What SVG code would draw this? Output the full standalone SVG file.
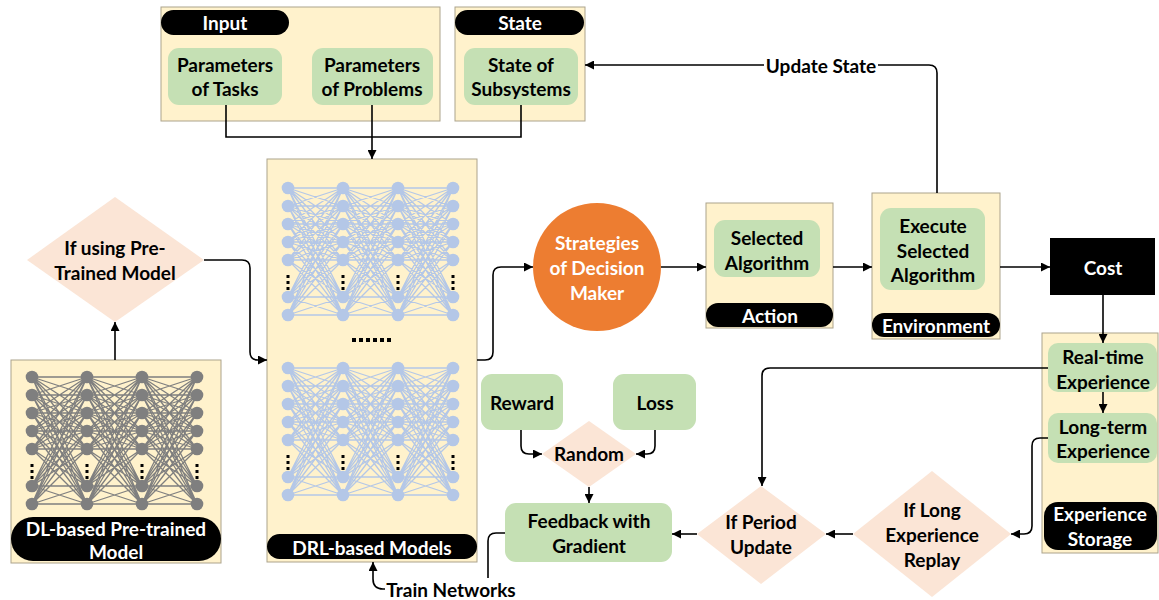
<svg xmlns="http://www.w3.org/2000/svg" xmlns:xlink="http://www.w3.org/1999/xlink" width="1159" height="600" viewBox="0 0 1159 600">
<style>
.box{fill:#fff2cc;stroke:#aca38c;stroke-width:1}
.grn{fill:#c5e0b4;stroke:none}
.pill{fill:#000}
.dia{fill:#fbe5d6;stroke:none}
text{font-family:Lato,"Liberation Sans",sans-serif;font-weight:bold;font-size:19px;text-anchor:middle;dominant-baseline:central;fill:#000}
.w{fill:#fff}
.con{fill:none;stroke:#000;stroke-width:1.6}
.arr{marker-end:url(#ah)}
</style>
<defs>
<marker id="ah" viewBox="0 0 10 10" refX="10" refY="5" markerWidth="9" markerHeight="9" markerUnits="userSpaceOnUse" orient="auto"><path d="M0,0L10,5L0,10z" fill="#000"/></marker>
<path id="lay" fill="none" stroke="currentColor" stroke-width="1.3" d="M0 0L55 0M0 0L55 18M0 0L55 36M0 0L55 54M0 0L55 72M0 0L55 109M0 0L55 127M0 18L55 0M0 18L55 18M0 18L55 36M0 18L55 54M0 18L55 72M0 18L55 109M0 18L55 127M0 36L55 0M0 36L55 18M0 36L55 36M0 36L55 54M0 36L55 72M0 36L55 109M0 36L55 127M0 54L55 0M0 54L55 18M0 54L55 36M0 54L55 54M0 54L55 72M0 54L55 109M0 54L55 127M0 72L55 0M0 72L55 18M0 72L55 36M0 72L55 54M0 72L55 72M0 72L55 109M0 72L55 127M0 109L55 0M0 109L55 18M0 109L55 36M0 109L55 54M0 109L55 72M0 109L55 109M0 109L55 127M0 127L55 0M0 127L55 18M0 127L55 36M0 127L55 54M0 127L55 72M0 127L55 109M0 127L55 127"/>
<g id="col" fill="currentColor">
<circle cx="0" cy="0" r="6.3"/><circle cx="0" cy="18" r="6.3"/><circle cx="0" cy="36" r="6.3"/><circle cx="0" cy="54" r="6.3"/><circle cx="0" cy="72" r="6.3"/><circle cx="0" cy="109" r="6.3"/><circle cx="0" cy="127" r="6.3"/>
<rect x="-1.5" y="87" width="3" height="3" fill="#000"/><rect x="-1.5" y="93" width="3" height="3" fill="#000"/><rect x="-1.5" y="99" width="3" height="3" fill="#000"/>
</g>
<g id="net">
<use xlink:href="#lay"/><use xlink:href="#lay" x="55"/><use xlink:href="#lay" x="110"/>
<use xlink:href="#col"/><use xlink:href="#col" x="55"/><use xlink:href="#col" x="110"/><use xlink:href="#col" x="165"/>
</g>
</defs>

<g id="input">
<rect class="box" x="161" y="7" width="279" height="114"/>
<rect class="pill" x="161" y="10" width="128" height="25" rx="12.5"/>
<text class="w" x="225" y="22.5">Input</text>
</g>
<g id="params-tasks">
<rect class="grn" x="168" y="48" width="114" height="57" rx="11"/>
<text x="225" y="64">Parameters</text><text x="225" y="88">of Tasks</text>
</g>
<g id="params-problems">
<rect class="grn" x="312" y="48" width="121" height="57" rx="11"/>
<text x="372" y="64">Parameters</text><text x="372" y="88">of Problems</text>
</g>
<g id="state">
<rect class="box" x="455" y="7" width="130" height="114"/>
<rect class="pill" x="455" y="10" width="129" height="25" rx="12.5"/>
<text class="w" x="520" y="22.5">State</text>
</g>
<g id="state-subsystems">
<rect class="grn" x="464" y="48" width="114" height="57" rx="11"/>
<text x="521" y="64">State of</text><text x="521" y="88">Subsystems</text>
</g>

<g id="drl">
<rect class="box" x="267" y="159" width="210" height="403"/>
<use xlink:href="#net" x="288" y="188" color="#b4c7e7"/>
<use xlink:href="#net" x="288" y="368" color="#b4c7e7"/>
<g fill="#000"><rect x="352" y="338" width="4" height="4"/><rect x="359" y="338" width="4" height="4"/><rect x="366" y="338" width="4" height="4"/><rect x="373" y="338" width="4" height="4"/><rect x="380" y="338" width="4" height="4"/><rect x="387" y="338" width="4" height="4"/></g>
<rect class="pill" x="267" y="534" width="210" height="25" rx="12.5"/>
<text class="w" x="372" y="547">DRL-based Models</text>
</g>

<g id="if-pretrained">
<polygon class="dia" points="115,197 204,260 115,322 27,260"/>
<text x="115" y="247">If using Pre-</text><text x="115" y="272">Trained Model</text>
</g>

<g id="dl-model">
<rect class="box" x="11" y="360" width="210" height="203"/>
<use xlink:href="#net" x="32" y="377" color="#7f7f7f"/>
<rect class="pill" x="11" y="517" width="210" height="44" rx="22"/>
<text class="w" x="116" y="528">DL-based Pre-trained</text><text class="w" x="116" y="551">Model</text>
</g>

<g id="strategies">
<circle cx="597" cy="267" r="64" fill="#ed7d31"/>
<text class="w" x="597" y="242">Strategies</text><text class="w" x="597" y="267">of Decision</text><text class="w" x="597" y="292">Maker</text>
</g>

<g id="action">
<rect class="box" x="706" y="203" width="127" height="125"/>
<rect class="grn" x="714" y="220" width="106" height="57" rx="11"/>
<text x="767" y="237">Selected</text><text x="767" y="262">Algorithm</text>
<rect class="pill" x="706" y="303" width="127" height="24" rx="12"/>
<text class="w" x="770" y="315">Action</text>
</g>

<g id="environment">
<rect class="box" x="872" y="193" width="128" height="146"/>
<rect class="grn" x="880" y="208" width="105" height="82" rx="11"/>
<text x="933" y="225">Execute</text><text x="933" y="250">Selected</text><text x="933" y="274">Algorithm</text>
<rect class="pill" x="872" y="313" width="128" height="24" rx="12"/>
<text class="w" x="936" y="325">Environment</text>
</g>

<g id="cost">
<rect x="1050" y="238" width="105" height="57" fill="#000"/>
<text class="w" x="1103" y="267">Cost</text>
</g>

<g id="storage">
<rect class="box" x="1042" y="333" width="116" height="220"/>
<rect class="grn" x="1048" y="343" width="109" height="49" rx="10"/>
<text x="1103" y="356">Real-time</text><text x="1103" y="381">Experience</text>
<rect class="grn" x="1048" y="413" width="109" height="50" rx="10"/>
<text x="1103" y="426">Long-term</text><text x="1103" y="450">Experience</text>
<rect class="pill" x="1044" y="502" width="113" height="48" rx="14"/>
<text class="w" x="1100" y="513">Experience</text><text class="w" x="1100" y="538">Storage</text>
</g>

<g id="reward">
<rect class="grn" x="481" y="374" width="82" height="56" rx="11"/>
<text x="522" y="402">Reward</text>
</g>
<g id="loss">
<rect class="grn" x="613" y="374" width="83" height="56" rx="11"/>
<text x="655" y="402">Loss</text>
</g>
<g id="random">
<polygon class="dia" points="589,421 636,454 589,487 542,454"/>
<text x="589" y="453">Random</text>
</g>
<g id="feedback">
<rect class="grn" x="505" y="503" width="167" height="59" rx="11"/>
<text x="589" y="520">Feedback with</text><text x="589" y="545">Gradient</text>
</g>
<g id="if-period">
<polygon class="dia" points="761,486 826,534 761,584 697,534"/>
<text x="761" y="521">If Period</text><text x="761" y="546">Update</text>
</g>
<g id="if-long">
<polygon class="dia" points="932,471 1011,534 932,597 853,534"/>
<text x="932" y="509">If Long</text><text x="932" y="534">Experience</text><text x="932" y="559">Replay</text>
</g>

<g id="connectors">
<path class="con" d="M226,105V137H521V105"/>
<path class="con arr" d="M372,105V159"/>
<path class="con arr" d="M115,360V322"/>
<path class="con arr" d="M204,260H242Q250,260 250,268V352Q250,360 258,360H267"/>
<path class="con arr" d="M477,360H485Q493,360 493,352V275Q493,267 501,267H533"/>
<path class="con arr" d="M661,267H706"/>
<path class="con arr" d="M833,267H872"/>
<path class="con arr" d="M1000,267H1050"/>
<path class="con arr" d="M937,193V73Q937,65 929,65H585"/>
<rect x="764" y="54" width="114" height="22" fill="#fff"/>
<text x="821" y="65">Update State</text>
<path class="con arr" d="M1103,295V343"/>
<path class="con arr" d="M1103,392V413"/>
<path class="con arr" d="M1048,438H1040Q1032,438 1032,446V526Q1032,534 1024,534H1011"/>
<path class="con arr" d="M853,534H826"/>
<path class="con arr" d="M1048,368H770Q762,368 762,376V486"/>
<path class="con arr" d="M697,534H672"/>
<path class="con arr" d="M521,430V446Q521,454 529,454H542"/>
<path class="con arr" d="M655,430V446Q655,454 647,454H636"/>
<path class="con arr" d="M589,487V503"/>
<path class="con arr" d="M505,533H496Q488,533 488,541V589H383Q373,589 373,579V562"/>
<rect x="385" y="578" width="133" height="22" fill="#fff"/>
<text x="451" y="589">Train Networks</text>
</g>
</svg>
